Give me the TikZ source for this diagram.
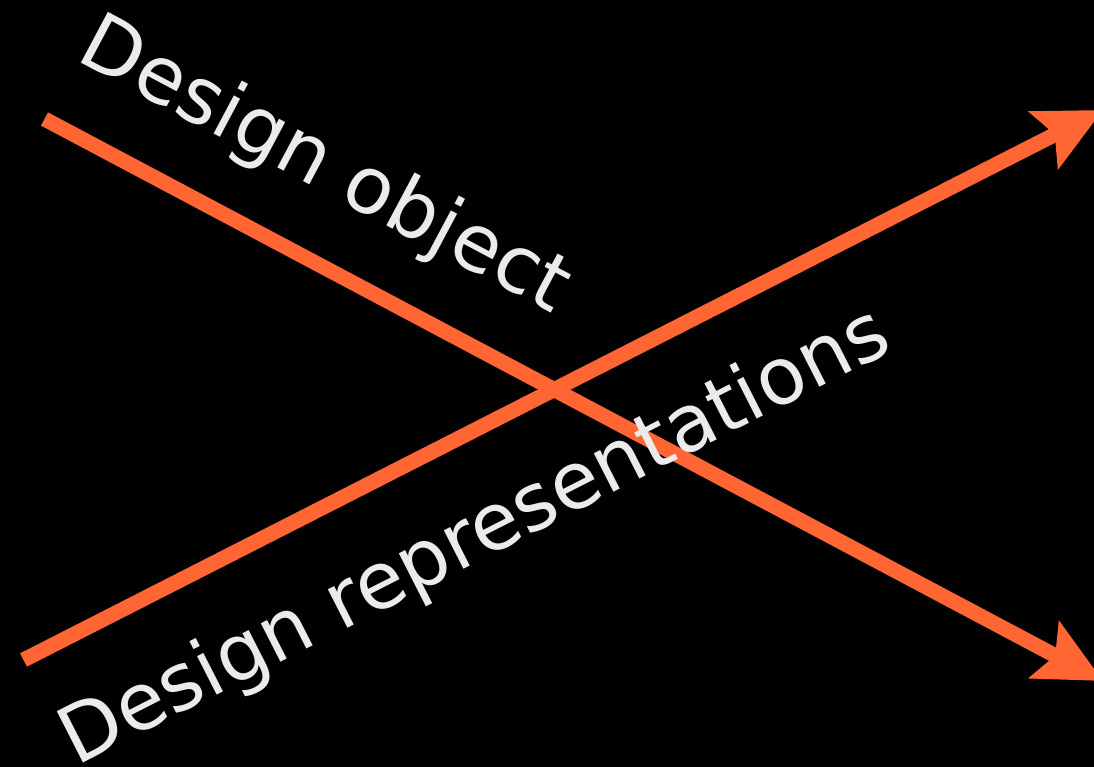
\documentclass[tikz,border=0pt]{standalone}
\usepackage{fontspec}
\setmainfont{DejaVu Sans}
\usetikzlibrary{arrows.meta}
\definecolor{arroworange}{HTML}{FF6633}
\definecolor{labelgray}{HTML}{EBEBEB}
\tikzset{
  bigarrow/.style={draw=arroworange, line width=15pt,
    -{Stealth[length=66pt, width=63pt, inset=12pt, fill=arroworange]}},
  biglabel/.style={text=labelgray, inner sep=0pt, anchor=base west,
    font=\fontsize{79}{95}\selectfont}
}
\begin{document}
\begin{tikzpicture}[x=1pt,y=1pt]
  \fill[black] (0,0) rectangle (1094,767);
  \useasboundingbox (0,0) rectangle (1094,767);
  \clip (0,0) rectangle (1094,767);
  \coordinate (objstart) at (44.5,648);
  \coordinate (objend) at (1103,86);
  \coordinate (repstart) at (23.5,107);
  \coordinate (repend) at (1103,657);
  \draw[bigarrow] (objstart) -- (objend);
  \draw[bigarrow] (repstart) -- (repend);
  \node[biglabel, rotate=-28] (objlabel) at (74.8,707.4) {Design object};
  \node[biglabel, rotate=27] (replabel) at (76.3,0.5) {Design representations};
\end{tikzpicture}
\end{document}
